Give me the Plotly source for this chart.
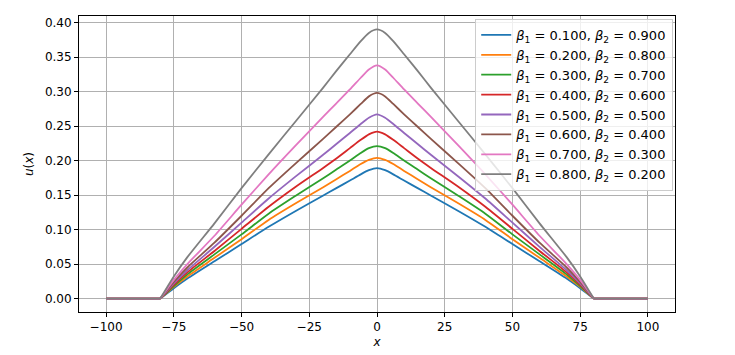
import plotly.graph_objects as go

# x positions (left half, mirrored for the right half)
X_HALF = [-100, -80, -75, -70, -60, -50, -40, -30, -20, -15, -10, -6, -3, 0]

BETA1 = [0.1, 0.2, 0.3, 0.4, 0.5, 0.6, 0.7, 0.8]
BETA2 = [0.9, 0.8, 0.7, 0.6, 0.5, 0.4, 0.3, 0.2]

# u(x) at X_HALF
U_B01 = [0, 0, 0.015, 0.029, 0.054, 0.079, 0.104, 0.127, 0.149, 0.160, 0.171, 0.180, 0.186, 0.189]
U_B02 = [0, 0, 0.017, 0.032, 0.059, 0.086, 0.114, 0.138, 0.161, 0.173, 0.185, 0.195, 0.201, 0.204]
U_B03 = [0, 0, 0.018, 0.035, 0.064, 0.093, 0.123, 0.149, 0.174, 0.187, 0.200, 0.211, 0.218, 0.221]
U_B04 = [0, 0, 0.020, 0.038, 0.069, 0.101, 0.133, 0.162, 0.189, 0.203, 0.218, 0.230, 0.238, 0.242]
U_B05 = [0, 0, 0.022, 0.041, 0.075, 0.110, 0.145, 0.177, 0.208, 0.224, 0.240, 0.253, 0.262, 0.267]
U_B06 = [0, 0, 0.024, 0.045, 0.081, 0.120, 0.160, 0.196, 0.231, 0.249, 0.267, 0.282, 0.293, 0.298]
U_B07 = [0, 0, 0.027, 0.050, 0.091, 0.136, 0.180, 0.222, 0.263, 0.283, 0.303, 0.320, 0.332, 0.338]
U_B08 = [0, 0, 0.032, 0.060, 0.109, 0.160, 0.209, 0.257, 0.305, 0.330, 0.354, 0.373, 0.385, 0.390]
SERIES = [U_B01, U_B02, U_B03, U_B04, U_B05, U_B06, U_B07, U_B08]

COLORS = ['#1f77b4', '#ff7f0e', '#2ca02c', '#d62728', '#9467bd', '#8c564b', '#e377c2', '#7f7f7f']
FONT = 'DejaVu Sans, sans-serif'

def mirror(xs, ys):
    x_full = xs + [-v for v in reversed(xs[:-1])]
    y_full = ys + list(reversed(ys[:-1]))
    return x_full, y_full

fig = go.Figure()
for i, (b1, b2, ys, c) in enumerate(zip(BETA1, BETA2, SERIES, COLORS)):
    xf, yf = mirror(X_HALF, ys)
    name = f'<i>β</i><sub>1</sub> = {b1:.3f}, <i>β</i><sub>2</sub> = {b2:.3f}'
    grp = f'g{i}'
    # flat zero parts kept straight, the hump smoothed
    fig.add_trace(go.Scatter(x=xf[1:-1], y=yf[1:-1], mode='lines', name=name, legendgroup=grp,
                             line=dict(color=c, width=1.8, shape='spline', smoothing=0.6)))
    for seg in (slice(0, 2), slice(-2, None)):
        fig.add_trace(go.Scatter(x=xf[seg], y=yf[seg], mode='lines', legendgroup=grp, showlegend=False,
                                 line=dict(color=c, width=1.8), hoverinfo='skip'))

axis_common = dict(
    showline=True, linecolor='black', linewidth=1, mirror=True,
    showgrid=True, gridcolor='#b0b0b0', gridwidth=1, zeroline=False,
    ticks='outside', ticklen=4, tickcolor='black', automargin=False,
    tickfont=dict(size=12, color='black', family=FONT),
)

# page body has an 8px margin, so the figure is 8px smaller than the window
fig.update_layout(
    width=727, height=347,
    paper_bgcolor='white', plot_bgcolor='white',
    font=dict(family=FONT, color='black', size=12),
    margin=dict(l=71, r=60, t=8, b=43),
    xaxis=dict(range=[-110, 110], tickvals=[-100, -75, -50, -25, 0, 25, 50, 75, 100],
               title=dict(text='<i>x</i>', font=dict(size=12), standoff=4), **axis_common),
    yaxis=dict(range=[-0.0195, 0.4095], tickvals=[0, 0.05, 0.1, 0.15, 0.2, 0.25, 0.3, 0.35, 0.4],
               tickformat='.2f', title=dict(text='<i>u</i>(<i>x</i>)', font=dict(size=12), standoff=8),
               **axis_common),
    legend=dict(x=0.997, y=0.99, xanchor='right', yanchor='top',
                bgcolor='rgba(255,255,255,0.8)', bordercolor='#cccccc', borderwidth=1,
                font=dict(size=13, family=FONT), tracegroupgap=0, itemwidth=30),
    showlegend=True,
)

fig.write_html("out.html")
